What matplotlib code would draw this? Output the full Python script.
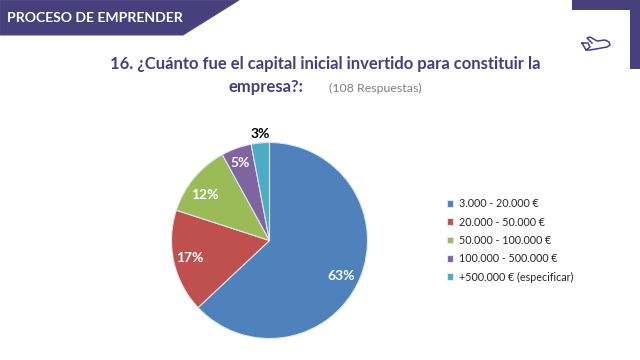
import matplotlib.pyplot as plt
from matplotlib.patches import Polygon, Rectangle

categories = ["3.000 - 20.000 €", "20.000 - 50.000 €", "50.000 - 100.000 €",
              "100.000 - 500.000 €", "+500.000 € (especificar)"]
values = [63, 17, 12, 5, 3]
colors = ["#4f81bd", "#c0504d", "#9bbb59", "#8064a2", "#4bacc6"]

purple = "#47407d"

plt.rcParams['font.family'] = ['Lato', 'DejaVu Sans']

fig = plt.figure(figsize=(6.4, 3.6), dpi=100)

# overlay in pixel coordinates for the slide decoration
bg = fig.add_axes([0, 0, 1, 1])
bg.set_xlim(0, 640)
bg.set_ylim(360, 0)
bg.axis("off")

bg.add_patch(Polygon([(0, 0), (239, 0), (183, 35), (0, 35)], fc=purple, ec="#5d4a86", lw=0.8))
bg.text(7, 18, "PROCESO DE EMPRENDER", color="white", fontsize=10.05, fontweight="bold", va="center")

bg.add_patch(Rectangle((572, 0), 68, 10, fc=purple, ec="none"))
bg.add_patch(Rectangle((630, 0), 10, 69, fc=purple, ec="none"))

# plane icon
bg.plot([582, 588, 590, 586, 582], [43, 43, 47, 50, 43], color=purple, lw=1.1)
bg.plot([586, 590, 607, 610, 609, 605, 597, 590, 587, 592],
        [50, 50, 47, 45, 42, 40, 41, 37, 38, 43], color=purple, lw=1.1)

bg.text(325, 64, "16. ¿Cuánto fue el capital inicial invertido para constituir la",
        color=purple, fontsize=12, fontweight="bold", ha="center", va="center")
bg.text(266, 87, "empresa?:", color=purple, fontsize=12, fontweight="bold", ha="center", va="center")
bg.text(375, 88, "(108 Respuestas)", color="#808080", fontsize=8.9, ha="center", va="center")

ax = fig.add_axes([171.5 / 640, 21.5 / 360, 196 / 640, 196 / 360])
wedges, texts, pcts = ax.pie(values, colors=colors, startangle=90, counterclock=False,
                             autopct="%.0f%%", pctdistance=0.81,
                             wedgeprops={"edgecolor": "#dfe6ee", "linewidth": 0.8})
ax.set_xlim(-1, 1)
ax.set_ylim(-1, 1)

# nudge labels, in pixels (y up)
nudges = [(-1.5, -4), (-2.5, 0), (-3.5, -5), (-2, 3), (-1, 0)]
for t, (dx, dy) in zip(pcts, nudges):
    t.set_color("white")
    t.set_fontweight("bold")
    t.set_fontsize(10)
    x, y = t.get_position()
    t.set_position((x + dx / 98, y + dy / 98))
pcts[-1].set_color("black")
pcts[-1].set_position((-0.09, 1.09))
pcts[-1].set_clip_on(False)

fig.legend(wedges, categories, loc="upper left", bbox_to_anchor=(443.5 / 640, 1 - 195 / 360),
           frameon=False, fontsize=7.75, handlelength=0.6, handleheight=0.6, handletextpad=0.5,
           labelspacing=0.68, borderaxespad=0, borderpad=0.3, labelcolor="#262626")

fig.savefig("out.png", dpi=100)
